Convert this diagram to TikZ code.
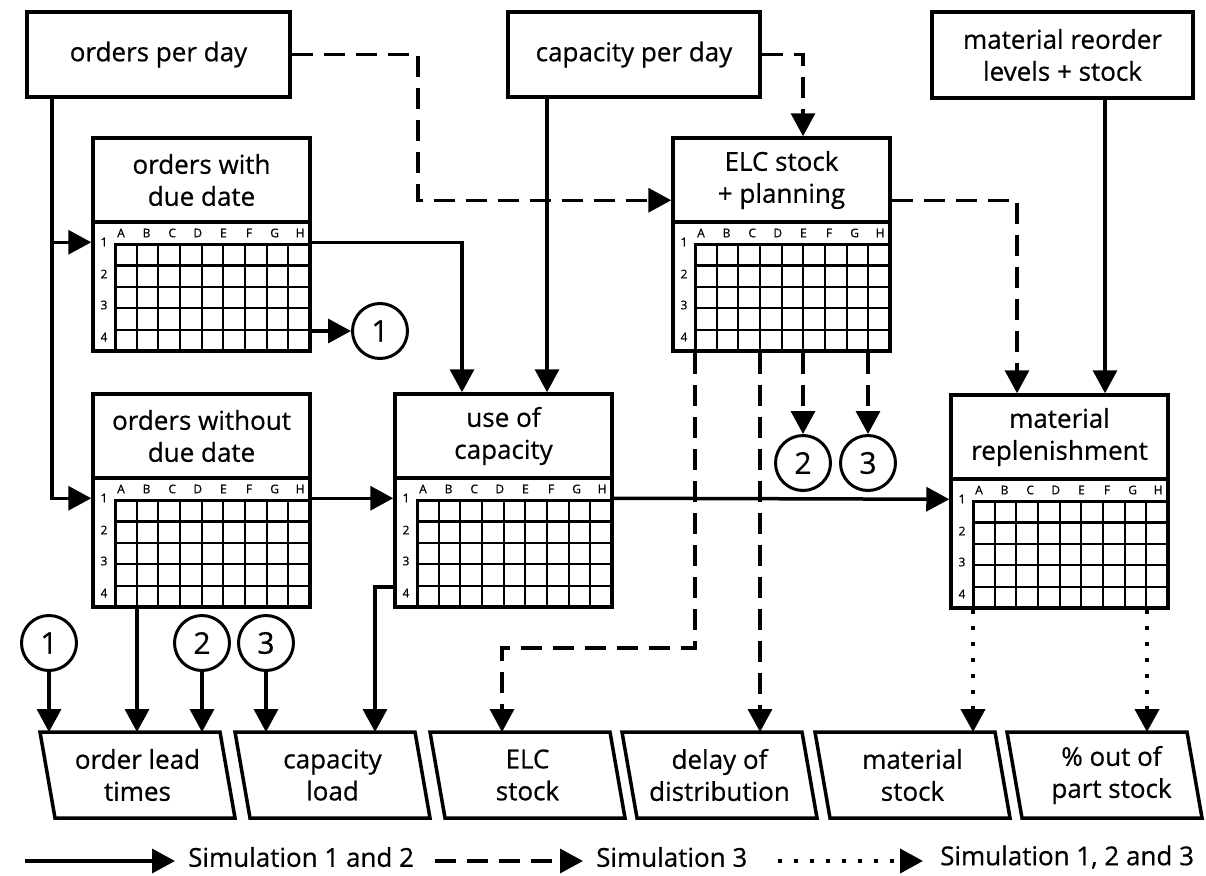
\documentclass[tikz,border=0pt]{standalone}
\usepackage{fontspec}
\setmainfont{Open Sans}[FakeBold=0.6]
\usetikzlibrary{arrows.meta,calc}
\newcommand{\gbox}[4]{% name, left, top, text
  \node[hdr] (#1) at ({#2+108.5},{#3+42}) {#4};
  \node[gpart] (#1g) at ({#2+108.5},{#3+148.5}) {};
  \foreach \ci in {1,...,8} \draw[gline] ({#2+22+\ci*21.667},{#3+106}) -- ({#2+22+\ci*21.667},{#3+213});
  \foreach \rj in {1,...,4} \draw[gline] ({#2+22},{#3+106+\rj*21.4}) -- ({#2+217},{#3+106+\rj*21.4});
  \draw[gedge] ({#2+217},{#3+106}) -- ({#2+22},{#3+106}) -- ({#2+22},{#3+213});
  \foreach \cl [count=\n from 0] in {A,B,C,D,E,F,G,H} \node[glab] (#1c\cl) at ({#2+28+\n*25.6},{#3+95}) {\cl};
  \foreach \rr/\dy in {1/-2,2/30,3/61,4/93} \node[glab] (#1r\rr) at ({#2+11},{#3+106+\dy}) {\rr};
}
\newcommand{\pbox}[3]{% name, top-left x, text
  \node[par] (#1) at ({#2+97.5},775) {#3};
  \draw[parb] (#1.north west) -- ++(180,0) -- (#1.south east) -- ++(-180,0) -- cycle;
}
\begin{document}
\begin{tikzpicture}[x=1pt,y=-1pt,
  every node/.style={font=\fontsize{26}{32}\selectfont},
  hdr/.style={draw,line width=3.5pt,minimum width=217pt,minimum height=84pt,inner sep=0pt,align=center},
  gpart/.style={draw,line width=3.5pt,minimum width=217pt,minimum height=129pt,inner sep=0pt},
  topbox/.style={draw,line width=3.5pt,inner sep=0pt,align=center},
  circ/.style={circle,draw,line width=3pt,minimum size=55pt,inner sep=0pt,font=\fontsize{30}{30}\selectfont},
  par/.style={minimum width=195pt,minimum height=86pt,inner sep=0pt,outer sep=0pt,align=center},
  parb/.style={line width=3.5pt,line join=miter},
  gline/.style={line width=2.2pt},
  gedge/.style={line width=3pt},
  glab/.style={font=\fontsize{12}{12}\selectfont,inner sep=0pt},
  sol/.style={line width=3.5pt},
  dsh/.style={line width=3.5pt,dash pattern=on 21pt off 11pt},
  dtt/.style={line width=4pt,dash pattern=on 4pt off 12pt},
  arr/.style={-{Triangle[length=23pt,width=24pt]}},
]
\useasboundingbox (0,0) rectangle (1206,875);

% top boxes
\node[topbox,minimum width=263pt,minimum height=85pt] (opd) at (158.5,54.5) {orders per day};
\node[topbox,minimum width=252pt,minimum height=85pt] (cpd) at (634,54.5) {capacity per day};
\node[topbox,minimum width=261pt,minimum height=86pt] (mro) at (1062.5,55) {material reorder\\levels + stock};

% grid boxes
\gbox{owd}{93}{138}{orders with\\due date}
\gbox{elc}{673}{138}{ELC stock\\+ planning}
\gbox{owo}{93}{394}{orders without\\due date}
\gbox{uoc}{395}{394}{use of\\capacity}
\gbox{mr}{951}{395}{material\\replenishment}

% circles
\node[circ] (c1a) at (380,331) {1};
\node[circ] (c2a) at (803,463) {2};
\node[circ] (c3a) at (868,463) {3};
\node[circ] (c1b) at (49,643) {1};
\node[circ] (c2b) at (202,643) {2};
\node[circ] (c3b) at (266,643) {3};

% output parallelograms
\pbox{olt}{40}{order lead\\times}
\pbox{cl}{235}{capacity\\load}
\pbox{es}{430}{ELC\\stock}
\pbox{dd}{622}{delay of\\distribution}
\pbox{ms}{815}{material\\stock}
\pbox{po}{1007}{\hspace*{14pt}\% out of\\\hspace*{14pt}part stock}

% helper coordinates
\coordinate (xT) at (52,0);
\coordinate (xB) at (462,0);
\coordinate (xC) at (547,0);
\coordinate (xD) at (418,0);
\coordinate (xE) at (803,0);
\coordinate (xG) at (1017,0);
\coordinate (xH) at (1105,0);
\coordinate (xL) at (502,0);
\coordinate (xM) at (760,0);
\coordinate (xN) at (137,0);
\coordinate (xO) at (375,0);
\coordinate (xP) at (973,0);
\coordinate (xQ) at (1147,0);
\coordinate (k1) at (695,648);
\coordinate (owdin) at ($(owdg.north west)+(0,22)$);
\coordinate (elcin) at ($(elcg.north west)+(0,-20)$);
\coordinate (elcout) at ($(elcg.north east)+(0,-20)$);
\coordinate (uocout) at ($(uocg.south west)+(0,-22)$);

% connectors
\draw[sol,arr] (opd.south -| xT) |- ($(owog.north west)+(0,22)$);
\draw[sol,arr] (xT |- owdin) -- (owdin);
\draw[sol,arr] ($(owdg.north east)+(0,22)$) -| (xB |- uoc.north);
\draw[sol,arr] (c1a.west -| owdg.east) -- (c1a.west);
\draw[sol,arr] (cpd.south -| xC) -- (xC |- uoc.north);
\draw[dsh,arr] (cpd.east) -| (xE |- elc.north);
\draw[dsh,arr] (opd.east) -| (xD |- elcin) -- (elcin);
\draw[dsh,arr] (elcout) -| (xG |- mr.north);
\draw[sol,arr] (mro.south -| xH) -- (xH |- mr.north);
\draw[sol,arr] ($(owog.north east)+(0,22)$) -- ($(uocg.north west)+(0,22)$);
\draw[sol,arr] ($(uocg.north east)+(0,22)$) -- ($(mrg.north west)+(0,22)$);
\draw[dsh,arr] (elcg.south -| k1) -- (k1) -| (xL |- es.north);
\draw[dsh,arr] (elcg.south -| xM) -- (xM |- dd.north);
\draw[dsh,arr] (elcg.south -| c2a.north) -- (c2a.north);
\draw[dsh,arr] (elcg.south -| c3a.north) -- (c3a.north);
\draw[sol,arr] (owog.south -| xN) -- (xN |- olt.north);
\draw[sol,arr] (uocout) -| (xO |- cl.north);
\draw[sol,arr] (c1b.south) -- (c1b.south |- olt.north);
\draw[sol,arr] (c2b.south) -- (c2b.south |- olt.north);
\draw[sol,arr] (c3b.south) -- (c3b.south |- cl.north);
\draw[dtt,arr] (mrg.south -| xP) -- (xP |- ms.north);
\draw[dtt,arr] (mrg.south -| xQ) -- (xQ |- po.north);

% legend
\coordinate (la1) at (25,861);
\coordinate (lb1) at (175,861);
\coordinate (la2) at (435,861);
\coordinate (lb2) at (583,861);
\coordinate (la3) at (778,861);
\coordinate (lb3) at (923,861);
\node[anchor=west,inner sep=0pt] (lt1) at (188,857) {Simulation 1 and 2};
\node[anchor=west,inner sep=0pt] (lt2) at (596,857) {Simulation 3};
\node[anchor=west,inner sep=0pt] (lt3) at (940,857) {Simulation 1, 2 and 3};
\draw[sol,arr] (la1) -- (lb1);
\draw[dsh,arr] (la2) -- (lb2);
\draw[dtt,arr] (la3) -- (lb3);
\end{tikzpicture}
\end{document}
